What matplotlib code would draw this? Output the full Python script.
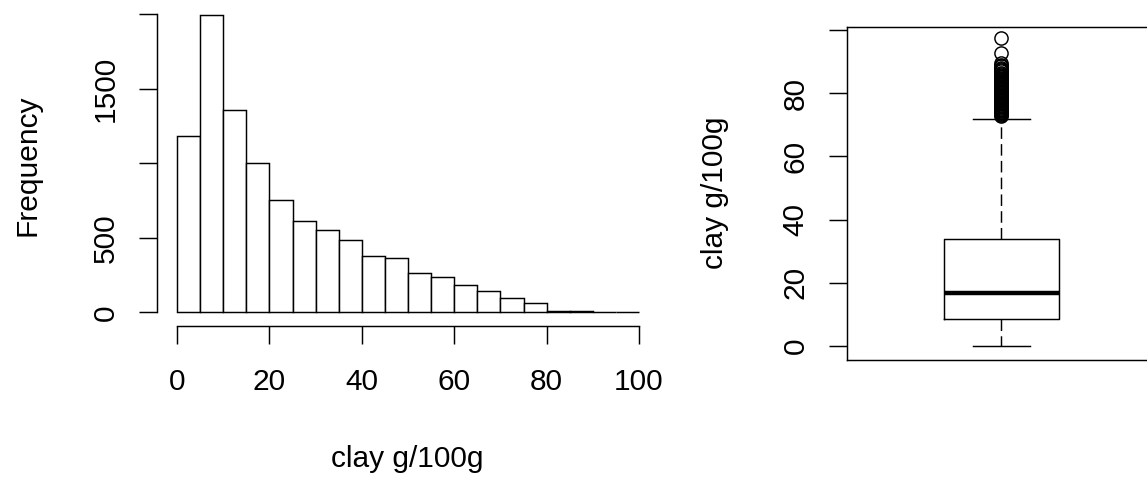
import matplotlib
matplotlib.use("Agg")
import matplotlib.pyplot as plt

# ---- data ----
bin_edges = [0, 5, 10, 15, 20, 25, 30, 35, 40, 45, 50, 55, 60, 65, 70, 75, 80, 85, 90, 95, 100]
counts = [1182, 1990, 1354, 1000, 755, 612, 550, 485, 377, 366, 261, 237, 183, 145, 94, 65, 10, 9, 2, 1]
hist_xticks = [0, 20, 40, 60, 80, 100]
hist_yticks = [0, 500, 1000, 1500, 2000]
hist_yticklabels = ["0", "500", "", "1500", ""]

box_q1 = 8.4
box_median = 16.7
box_q3 = 33.8
box_whislo = 0.0
box_whishi = 71.8
box_fliers = [72.8, 73.2, 73.5, 73.8, 74.0, 74.3, 74.5, 74.8, 75.0, 75.3, 75.5, 75.8,
              76.0, 76.3, 76.5, 76.8, 77.0, 77.4, 77.9, 78.2, 78.5, 78.8, 79.0, 79.5,
              80.0, 80.3, 80.5, 80.8, 81.0, 81.3, 81.5, 81.8, 82.0, 82.3, 82.5, 82.8,
              83.0, 83.3, 83.5, 83.8, 84.0, 84.5, 85.0, 85.3, 85.6, 86.0, 86.5, 87.0,
              87.3, 87.6, 88.0, 88.5, 89.0, 89.5, 92.6, 97.4]
box_yticks = [0, 20, 40, 60, 80, 100]
box_yticklabels = ["0", "20", "40", "60", "80", ""]

xlabel = "clay g/100g"
ylabel_hist = "Frequency"
ylabel_box = "clay g/100g"

# ---- figure ----
W, H = 1147, 478
plt.rcParams['font.family'] = ['Liberation Sans', 'DejaVu Sans']
FS = 21.5
fig = plt.figure(figsize=(W / 100, H / 100), dpi=100)


def px_axes(left, right, top, bottom):
    return fig.add_axes([left / W, 1 - bottom / H, (right - left) / W, (bottom - top) / H])


LW = 1.05
TICKLEN = 12.8

# Histogram
ax1 = px_axes(157, 657.5, 3.56, 325.5)
widths = [bin_edges[i + 1] - bin_edges[i] for i in range(len(counts))]
ax1.bar(bin_edges[:-1], counts, width=widths, align='edge', facecolor='white',
        edgecolor='black', linewidth=LW)
ax1.set_xlim(-4.33, 104)
ax1.set_ylim(-88.6, 2070)
for s in ['top', 'right']:
    ax1.spines[s].set_visible(False)
ax1.spines['left'].set_bounds(0, 2000)
ax1.spines['bottom'].set_bounds(0, 100)
ax1.spines['left'].set_linewidth(LW)
ax1.spines['bottom'].set_linewidth(LW)
ax1.set_xticks(hist_xticks)
ax1.set_xticklabels([str(v) for v in hist_xticks])
ax1.set_yticks(hist_yticks)
ax1.set_yticklabels(hist_yticklabels, rotation=90, va='center')
ax1.tick_params(axis='both', direction='out', length=TICKLEN, width=LW, labelsize=FS)
ax1.tick_params(axis='x', pad=17.5)
ax1.tick_params(axis='y', pad=14)

fig.text(28 / W, 1 - 165 / H, ylabel_hist, rotation=90, ha='center', va='center', fontsize=FS)
fig.text(407 / W, 1 - 459 / H, xlabel, ha='center', va='center', fontsize=FS)

# Boxplot
ax2 = px_axes(846.7, 1156, 26.7, 360)
stats = [dict(med=box_median, q1=box_q1, q3=box_q3, whislo=box_whislo, whishi=box_whishi,
              fliers=box_fliers)]
ax2.bxp(stats, positions=[1], widths=0.4, patch_artist=False,
        boxprops=dict(color='black', linewidth=LW),
        medianprops=dict(color='black', linewidth=3.2, solid_capstyle='butt'),
        whiskerprops=dict(color='black', linewidth=LW, linestyle=(0, (7.9, 3.6))),
        capprops=dict(color='black', linewidth=LW),
        capwidths=0.2,
        flierprops=dict(marker='o', markersize=9.5, markerfacecolor='none',
                        markeredgecolor='black', markeredgewidth=LW, linestyle='none'))
ax2.set_xlim(0.46, 1.54)
ax2.set_ylim(-4.43, 101.0)
ax2.set_xticks([])
ax2.set_yticks(box_yticks)
ax2.set_yticklabels(box_yticklabels, rotation=90, va='center')
ax2.tick_params(axis='y', direction='out', length=TICKLEN, width=LW, labelsize=FS, pad=14)
for s in ax2.spines.values():
    s.set_linewidth(LW)

fig.text(715 / W, 1 - 193 / H, ylabel_box, rotation=90, ha='center', va='center', fontsize=FS)

fig.savefig("out.png", dpi=100)
